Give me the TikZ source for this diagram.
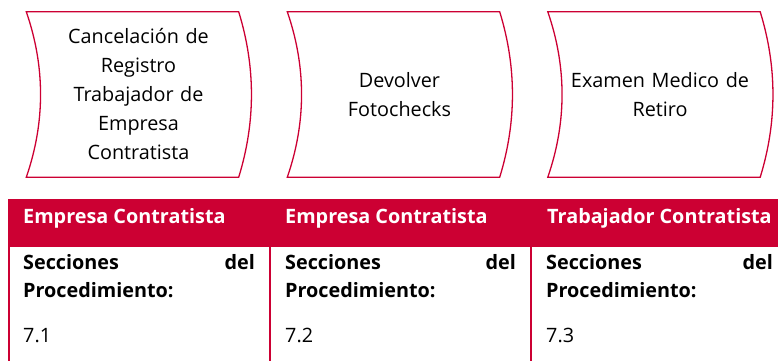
\documentclass[tikz,border=0pt]{standalone}
\usepackage{fontspec}
\setmainfont{Open Sans}
\definecolor{crim}{HTML}{CC0033}
\tikzset{
  procbox/.style={minimum width=199pt, minimum height=165pt, inner sep=0pt, text width=200pt, align=center, font=\fontsize{19.8}{29}\selectfont},
  outline/.style={draw=crim, line width=1.3pt},
  hdr/.style={anchor=west, text=white, font=\fontsize{19.8}{22}\bfseries\selectfont, inner sep=0pt},
  bodytxt/.style={anchor=base west, inner sep=0pt, font=\fontsize{19.8}{22}\selectfont},
  boldtxt/.style={bodytxt, font=\fontsize{19.8}{22}\bfseries\selectfont},
  boldr/.style={anchor=base east, inner sep=0pt, font=\fontsize{19.8}{22}\bfseries\selectfont},
  rule/.style={draw=crim, line width=2pt}
}
\newcommand{\shapeoutline}[1]{%
  \draw[outline] ([xshift=-12pt]#1.north west) -- (#1.north east)
    .. controls +(17,55) and +(17,-55) .. (#1.south east)
    -- ([xshift=-12pt]#1.south west)
    .. controls +(19,-55) and +(19,55) .. ([xshift=-12pt]#1.north west) -- cycle;}
\begin{document}
\begin{tikzpicture}[x=1pt,y=-1pt]
\useasboundingbox (0,0) rectangle (778,361);
\node[procbox] (p1) at (138.5,94.5) {Cancelación de\\Registro\\Trabajador de\\Empresa\\Contratista};
\node[procbox] (p2) at (399.5,94.5) {Devolver\\Fotochecks};
\node[procbox] (p3) at (660,94.5) {Examen Medico de\\Retiro};
\shapeoutline{p1}
\shapeoutline{p2}
\shapeoutline{p3}
% table
\fill[crim] (8,199) rectangle (778,247);
\coordinate (c0) at (9,247);
\coordinate (c1) at (270,247);
\coordinate (c2) at (531,247);
\coordinate (b0) at (9,361);
\coordinate (b1) at (270,361);
\coordinate (b2) at (531,361);
\draw[rule] (c0) -- (b0);
\draw[rule] (c1) -- (b1);
\draw[rule] (c2) -- (b2);
\node[hdr] (h1) at (23,218) {Empresa Contratista};
\node[hdr] (h2) at (285,218) {Empresa Contratista};
\node[hdr] (h3) at (547,218) {Trabajador Contratista};
\node[boldtxt] (s1) at (23,269) {Secciones};
\node[boldr] (d1) at (255,269) {del};
\node[boldtxt] (q1) at (23,297) {Procedimiento:};
\node[bodytxt] (n1) at (23,342) {7.1};
\node[boldtxt] (s2) at (285,269) {Secciones};
\node[boldr] (d2) at (516,269) {del};
\node[boldtxt] (q2) at (285,297) {Procedimiento:};
\node[bodytxt] (n2) at (285,342) {7.2};
\node[boldtxt] (s3) at (546,269) {Secciones};
\node[boldr] (d3) at (773,269) {del};
\node[boldtxt] (q3) at (546,297) {Procedimiento:};
\node[bodytxt] (n3) at (546,342) {7.3};
\end{tikzpicture}
\end{document}
